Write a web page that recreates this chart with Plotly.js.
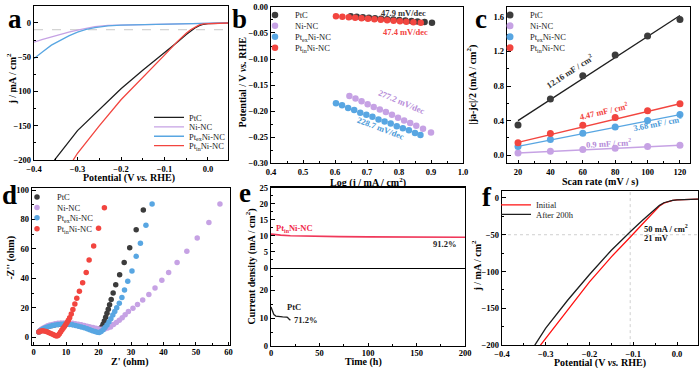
<!DOCTYPE html>
<html><head><meta charset="utf-8">
<script src="https://cdn.plot.ly/plotly-3.0.1.min.js"></script>
<style>html,body{margin:0;padding:0;background:#fff}#g{width:700px;height:368px}</style>
</head><body><div id="g"></div>
<script>
// ---------- Series names ----------
const names = ['PtC', 'Ni-NC', 'Pt<sub>ex</sub>Ni-NC', 'Pt<sub>in</sub>Ni-NC'];

// ---------- (a) LSV ----------
const aPtC_x = [0.046,0.02,0.0,-0.01,-0.02,-0.03,-0.04,-0.05,-0.07,-0.1,-0.15,-0.2,-0.25,-0.3,-0.353];
const aPtC_y = [-0.3,-0.5,-1,-2,-4,-7.5,-12,-17,-28,-43,-69,-96,-126,-157,-200];
const aNi_x = [0.046,0,-0.05,-0.1,-0.15,-0.2,-0.23,-0.26,-0.28,-0.3,-0.32,-0.35,-0.38,-0.4];
const aNi_y = [0,-0.5,-1,-1.5,-2,-2.8,-3.8,-5.5,-7.5,-10.5,-13.5,-18.5,-24,-28];
const aEx_x = [0.046,0,-0.05,-0.1,-0.15,-0.2,-0.23,-0.26,-0.28,-0.3,-0.32,-0.34,-0.36,-0.38,-0.4];
const aEx_y = [0,-0.5,-1,-1.5,-2.2,-3.2,-4.5,-6.8,-9.5,-13.5,-19,-25.5,-32.5,-42,-52];
const aIn_x = [0.046,0.02,0.0,-0.01,-0.02,-0.03,-0.04,-0.05,-0.07,-0.1,-0.15,-0.2,-0.25,-0.3,-0.31];
const aIn_y = [-0.2,-0.4,-0.8,-1.5,-3,-6,-10,-15,-27,-47,-79,-112,-150,-190,-200];
const aRef_x = [-0.4, 0.046];
const aRef_y = [-10, -10];

// ---------- (b) Tafel ----------
const bPtC_x = [0.649,0.668,0.687,0.706,0.725,0.744,0.763,0.782,0.801,0.82,0.839,0.858,0.880,0.903];
const bPtC_y = [-0.0180,-0.0189,-0.0198,-0.0207,-0.0216,-0.0225,-0.0234,-0.0243,-0.0252,-0.0261,-0.0270,-0.0279,-0.0290,-0.0301];
const bNi_x = [0.645,0.664,0.683,0.702,0.721,0.740,0.759,0.778,0.797,0.816,0.835,0.854,0.875,0.900];
const bNi_y = [-0.171,-0.176,-0.181,-0.187,-0.192,-0.197,-0.202,-0.207,-0.213,-0.218,-0.223,-0.228,-0.234,-0.241];
const bEx_x = [0.603,0.622,0.641,0.660,0.679,0.698,0.717,0.736,0.755,0.774,0.793,0.812,0.831,0.850,0.867];
const bEx_y = [-0.185,-0.189,-0.194,-0.198,-0.203,-0.207,-0.211,-0.216,-0.220,-0.224,-0.229,-0.233,-0.237,-0.242,-0.246];
const bIn_x = [0.603,0.623,0.643,0.663,0.683,0.703,0.723,0.743,0.763,0.783,0.803,0.823,0.845,0.868];
const bIn_y = [-0.0180,-0.0189,-0.0199,-0.0208,-0.0218,-0.0227,-0.0237,-0.0246,-0.0256,-0.0265,-0.0275,-0.0284,-0.0294,-0.0305];
const bLabels = ['47.9 mV/dec','277.2 mV/dec','228.7 mV/dec','47.4 mV/dec'];

// ---------- (c) Cdl ----------
const cScan = [20,40,60,80,100,120];
const cPtC = [0.35,0.65,0.92,1.16,1.38,1.57];
const cNi  = [0.025,0.045,0.065,0.08,0.10,0.115];
const cEx  = [0.10,0.18,0.255,0.325,0.40,0.47];
const cIn  = [0.145,0.25,0.345,0.435,0.515,0.595];
const cFitX = [20,120];
const cFitPtC = [0.40,1.616];
const cFitNi  = [0.025,0.115];
const cFitEx  = [0.102,0.47];
const cFitIn  = [0.148,0.595];
const cLabels = ['12.16 mF / cm<sup>2</sup>','0.9 mF / cm<sup>2</sup>','3.68 mF / cm<sup>2</sup>','4.47 mF / cm<sup>2</sup>'];

// ---------- (d) Nyquist ----------
const dPtC_x = [1.6,2.0,2.5,3.0,3.6,4.3,5.0,5.8,6.6,7.5,8.4,9.3,10.2,11.1,12.0,12.9,13.8,14.7,15.6,16.5,17.3,18.1,18.9,19.6,20.2,20.6,21.0,21.4,21.8,22.2,22.6,23.0,23.4,23.9,24.5,25.3,26.5,27.9,29.6,31.6,33.8];
const dPtC_y = [3.6,4.4,5.2,5.9,6.5,7.1,7.6,8.0,8.4,8.7,8.9,9.0,9.0,8.9,8.7,8.5,8.2,7.9,7.5,7.1,6.6,6.1,5.6,5.2,5.2,5.9,7.0,8.8,11.0,13.5,16.2,19.0,22.0,25.6,30.0,35.7,42.5,50.7,60.8,73.0,86.4];
const dNi_x = [1.6,2.0,2.5,3.0,3.6,4.3,5.0,5.8,6.6,7.5,8.4,9.3,10.2,11.1,12.0,12.9,13.8,14.7,15.6,16.5,17.4,18.3,19.2,20.1,21.0,21.9,22.8,23.7,24.6,25.5,26.4,27.3,28.2,29.2,30.6,32.0,33.6,35.5,37.4,39.5,41.6,44.2,47.2,50.4,54.0,57.4];
const dNi_y = [3.6,4.6,5.5,6.3,7.0,7.7,8.2,8.7,9.1,9.4,9.6,9.7,9.7,9.6,9.4,9.1,8.8,8.4,8.0,7.5,7.0,6.5,6.0,5.6,5.4,5.6,6.2,7.0,8.6,10.0,11.5,13.2,15.2,17.4,19.7,22.2,25.3,29.0,33.5,38.7,43.9,50.7,58.4,67.4,78.0,90.5];
const dEx_x = [1.6,2.0,2.5,3.0,3.6,4.3,5.0,5.8,6.6,7.5,8.4,9.3,10.2,11.1,12.0,12.9,13.8,14.7,15.6,16.5,17.3,18.1,18.9,19.6,20.2,20.8,21.4,22.0,22.6,23.2,23.8,24.4,25.0,25.6,26.4,27.2,28.0,29.0,30.3,31.6,32.9,34.6,36.5];
const dEx_y = [3.5,4.3,5.1,5.8,6.4,7.0,7.5,7.9,8.3,8.6,8.8,8.9,8.9,8.7,8.4,8.0,7.5,7.0,6.4,5.8,5.1,4.4,3.8,3.3,3.2,3.8,5.0,6.5,8.3,10.3,12.5,15.0,17.5,20.0,23.0,27.0,32.0,38.0,45.0,55.0,63.8,76.0,90.5];
const dIn_x = [1.6,2.0,2.6,3.2,3.9,4.6,5.3,6.0,6.6,7.1,7.5,7.9,8.3,8.7,9.1,9.5,9.9,10.3,10.7,11.1,11.6,12.1,12.7,13.3,14.1,15.1,16.2,17.1,18.5,20.0,21.8];
const dIn_y = [3.6,4.1,4.3,4.2,3.8,3.2,2.5,1.8,1.1,0.8,1.2,2.2,3.5,4.8,6.0,7.3,8.6,10.0,11.5,13.2,15.8,18.8,22.6,26.5,31.2,37.0,44.0,52.5,62.0,74.0,88.0];

// ---------- (e) stability ----------
const eIn_t = [0,2,5,10,20,30,50,70,100,120,150,175,200];
const eIn_j = [10.5,10.4,10.3,10.2,10.0,9.9,9.8,9.7,9.65,9.6,9.6,9.55,9.5];
const ePtC_t = [0,0.5,1,2,3,5,8,12,16,17,18,19,20];
const ePtC_j = [14,13.6,13,12,11.3,10.8,10.6,10.5,10.4,10.3,9.9,9.6,9.3];

// ---------- (f) durability LSV ----------
const fInit_x = [0.048,0.02,0.0,-0.01,-0.02,-0.03,-0.04,-0.05,-0.08,-0.105,-0.15,-0.2,-0.25,-0.3,-0.312];
const fInit_y = [-1.5,-1.8,-2.5,-3.3,-4.8,-7,-11,-17,-36,-52,-80,-114,-152,-190,-200];
const fAft_x = [0.048,0.02,0.0,-0.01,-0.02,-0.03,-0.04,-0.05,-0.08,-0.105,-0.15,-0.2,-0.25,-0.3,-0.325];
const fAft_y = [-1.5,-1.8,-2.5,-3.2,-4.5,-6.5,-10,-15,-31,-45,-71,-104,-139,-177,-200];
const fGuideX = [-0.107,-0.107];
const fGuideXy = [-200, 9.5];
const fGuideY = [-0.4, 0.048];
const fGuideYy = [-50, -50];

// ---------- styling ----------
const F = 'Liberation Serif, Times New Roman, serif';
const W = 700, H = 368;
const cBlk = '#1e1e1e', cDot = '#3c3c3c', cPur = '#c6a2e4', cBlu = '#58a6e2', cRed = '#f2453f';
const px = v => v / W, py = v => 1 - v / H;
const mt = (o) => Object.assign({ticks: 'inside', ticklen: 2, tickcolor: '#000'}, o);

function axis(dom, range, extra) {
  return Object.assign({
    domain: dom, range: range, showline: true, linecolor: '#000', linewidth: 1.2, mirror: true,
    ticks: 'inside', ticklen: 3.5, tickwidth: 1, tickcolor: '#000', showgrid: false, zeroline: false,
    tickfont: {family: F, size: 8.5, color: '#000', weight: 'bold'}
  }, extra);
}
function leg(L, yc) {
  return {x: px(L), y: py(yc), xanchor: 'left', yanchor: 'middle', bgcolor: 'rgba(0,0,0,0)',
    borderwidth: 0, font: {family: F, size: 8.5, color: '#222'}, tracegroupgap: 0, itemclick: false, itemdoubleclick: false};
}

const traces = [];
let li = 1;
const layout = {
  width: W, height: H, margin: {l: 0, r: 0, t: 0, b: 0}, paper_bgcolor: '#fff', plot_bgcolor: 'rgba(0,0,0,0)',
  showlegend: true, annotations: []
};
function addLeg(tr, L, yc) {
  const key = li === 1 ? 'legend' : 'legend' + li;
  tr.legend = key; tr.showlegend = true;
  layout[key] = leg(L, yc); li++;
}
function line(x, y, xa, ya, color, name, extra) {
  const t = Object.assign({x: x, y: y, xaxis: xa, yaxis: ya, mode: 'lines', name: name || '',
    line: {color: color, width: 1.3}, showlegend: false, hoverinfo: 'skip'}, extra || {});
  traces.push(t); return t;
}
function dots(x, y, xa, ya, color, size, name) {
  const t = {x: x, y: y, xaxis: xa, yaxis: ya, mode: 'markers', name: name || '',
    marker: {color: color, size: size, line: {width: 0}}, showlegend: false, hoverinfo: 'skip'};
  traces.push(t); return t;
}

// (a)
line(aRef_x, aRef_y, 'x', 'y', '#c8c8c8', '', {line: {color: '#c8c8c8', width: 1, dash: 'dash'}});
addLeg(line(aPtC_x, aPtC_y, 'x', 'y', cBlk, names[0]), 149, 116);
addLeg(line(aNi_x, aNi_y, 'x', 'y', cPur, names[1]), 149, 125.5);
addLeg(line(aEx_x, aEx_y, 'x', 'y', cBlu, names[2]), 149, 135);
addLeg(line(aIn_x, aIn_y, 'x', 'y', cRed, names[3]), 149, 144.5);
layout.xaxis = axis([px(34), px(228)], [-0.4, 0.046], {anchor: 'y', dtick: 0.1, tickformat: '.1f', minor: mt({dtick: 0.05})});
layout.yaxis = axis([py(159), py(4)], [-200, 24.6], {anchor: 'x', tickvals: [-200,-150,-100,-50,0], minor: mt({dtick: 25})});

// (b)
addLeg(dots(bPtC_x, bPtC_y, 'x2', 'y2', cDot, 6.5, names[0]), 255, 13);
addLeg(dots(bNi_x, bNi_y, 'x2', 'y2', cPur, 6.5, names[1]), 255, 24);
addLeg(dots(bEx_x, bEx_y, 'x2', 'y2', cBlu, 6.5, names[2]), 255, 35);
addLeg(dots(bIn_x, bIn_y, 'x2', 'y2', cRed, 6.5, names[3]), 255, 46);
layout.xaxis2 = axis([px(271), px(463)], [0.4, 1.0], {anchor: 'y2', dtick: 0.1, tickformat: '.1f', minor: mt({dtick: 0.05})});
layout.yaxis2 = axis([py(162), py(5)], [-0.3, 0], {anchor: 'x2', dtick: 0.05, tickformat: '.2f', minor: mt({dtick: 0.025})});

// (c)
line(cFitX, cFitPtC, 'x3', 'y3', cBlk);
line(cFitX, cFitNi, 'x3', 'y3', cPur);
line(cFitX, cFitEx, 'x3', 'y3', cBlu);
line(cFitX, cFitIn, 'x3', 'y3', cRed);
addLeg(dots(cScan, cPtC, 'x3', 'y3', cDot, 7, names[0]), 490, 13);
addLeg(dots(cScan, cNi, 'x3', 'y3', cPur, 7, names[1]), 490, 24);
addLeg(dots(cScan, cEx, 'x3', 'y3', cBlu, 7, names[2]), 490, 35);
addLeg(dots(cScan, cIn, 'x3', 'y3', cRed, 7, names[3]), 490, 46);
layout.xaxis3 = axis([px(507), px(690)], [13.2, 126.2], {anchor: 'y3', dtick: 20, tick0: 0, minor: mt({dtick: 10})});
layout.yaxis3 = axis([py(162), py(5)], [-0.092, 1.715], {anchor: 'x3', dtick: 0.4, tickformat: '.1f', minor: mt({dtick: 0.2})});

// (d)
addLeg(dots(dPtC_x, dPtC_y, 'x4', 'y4', cDot, 5.5, names[0]), 17, 196);
addLeg(dots(dNi_x, dNi_y, 'x4', 'y4', cPur, 5.5, names[1]), 17, 206.5);
addLeg(dots(dEx_x, dEx_y, 'x4', 'y4', cBlu, 5.5, names[2]), 17, 217);
addLeg(dots(dIn_x, dIn_y, 'x4', 'y4', cRed, 5.5, names[3]), 17, 228);
layout.xaxis4 = axis([px(32), px(230)], [-0.5, 60.5], {anchor: 'y4', dtick: 10, ticklabelstandoff: -2, minor: mt({dtick: 5})});
layout.yaxis4 = axis([py(345), py(187)], [-5.4, 101.4], {anchor: 'x4', dtick: 20, minor: mt({dtick: 10})});

// (e) broken axis: bottom (PtC) and top (Pt-in) sections
line(eIn_t, eIn_j, 'x7', 'y6', '#f0385a', '', {line: {color: '#f0385a', width: 1.6}});
line(ePtC_t, ePtC_j, 'x5', 'y5', cBlk, '', {line: {color: cBlk, width: 1.3}});
layout.xaxis5 = axis([px(271), px(465)], [0, 200], {anchor: 'y5', dtick: 50, mirror: false, ticklabelstandoff: -2, minor: mt({dtick: 25})});
layout.xaxis7 = axis([px(271), px(465)], [0, 200], {anchor: 'y6', ticks: '', showticklabels: false, linewidth: 1.6});
layout.yaxis5 = axis([py(346), py(267)], [0, 28.2], {anchor: 'x5', tickvals: [0,10,20], minor: mt({tickvals: [5,15,25]})});
layout.yaxis6 = axis([py(267), py(187)], [0, 25], {anchor: 'x7', dtick: 5, minor: mt({dtick: 2.5})});

// (f)
line(fGuideX, fGuideXy, 'x6', 'y7', '#cfcfcf', '', {line: {color: '#cfcfcf', width: 1, dash: 'dot'}});
line(fGuideY, fGuideYy, 'x6', 'y7', '#cfcfcf', '', {line: {color: '#cfcfcf', width: 1, dash: 'dot'}});
addLeg(line(fInit_x, fInit_y, 'x6', 'y7', '#ff1010', 'Initial', {line: {color: '#ff1010', width: 1.3}}), 496, 204);
addLeg(line(fAft_x, fAft_y, 'x6', 'y7', cBlk, 'After 200h', {line: {color: cBlk, width: 1.3}}), 496, 213.5);
layout.xaxis6 = axis([px(502), px(698)], [-0.4, 0.048], {anchor: 'y7', dtick: 0.1, tickformat: '.1f', ticklabelstandoff: 0, minor: mt({dtick: 0.05})});
layout.yaxis7 = axis([py(345), py(190)], [-200, 9.5], {anchor: 'x6', tickvals: [-200,-150,-100,-50,0], minor: mt({dtick: 25})});

// ---------- annotations ----------
const A = layout.annotations;
function txt(xref, yref, x, y, text, o) {
  A.push(Object.assign({xref: xref, yref: yref, x: x, y: y, text: text, showarrow: false,
    font: {family: F, size: 8.5, color: '#000', weight: 'bold'}, xanchor: 'center', yanchor: 'middle'}, o || {}));
}
function ptxt(xp, yp, text, o) { txt('paper', 'paper', px(xp), py(yp), text, o); }
// panel letters
const lf = {family: F, size: 27, color: '#000', weight: 'bold'};
[['a',15,0],['b',239,0],['c',481,0]].forEach(l => ptxt(l[1], l[2], l[0], {font: lf, yanchor: 'top'}));
[['d',9,194],['e',245,192],['f',487,196]].forEach(l => ptxt(l[1], l[2], l[0], {font: lf}));
// axis titles
const tf = {family: F, size: 10, color: '#000', weight: 'bold'};
ptxt(129, 177, 'Potential (V <i>vs.</i> RHE)', {font: tf});
ptxt(11, 77, 'j / mA / cm<sup>2</sup>', {font: tf, textangle: -90});
ptxt(368, 181, 'Log (j / mA / cm<sup>2</sup>)', {font: tf});
ptxt(243, 81, 'Potential / V <i>vs.</i> RHE', {font: tf, textangle: -90});
ptxt(600, 181, 'Scan rate (mV / s)', {font: tf});
ptxt(472, 83, '|ja-jc|/2 (mA / cm<sup>2</sup>)', {font: tf, textangle: -90});
ptxt(130, 362, "Z' (ohm)", {font: tf});
ptxt(11, 257, "-Z'' (ohm)", {font: tf, textangle: -90});
ptxt(363, 362, 'Time (h)', {font: tf});
ptxt(251, 266, 'Current density (mA / cm<sup>2</sup>)', {font: tf, textangle: -90});
ptxt(600, 362.5, 'Potential (V <i>vs.</i> RHE)', {font: tf});
ptxt(476, 265, 'j / mA / cm<sup>2</sup>', {font: tf, textangle: -90});
// (b) slopes
const af = c => ({family: F, size: 8.5, color: c, weight: 'bold'});
txt('x2', 'y2', 0.813, -0.0125, bLabels[0], {font: af('#333')});
txt('x2', 'y2', 0.819, -0.048, bLabels[3], {font: af(cRed)});
txt('x2', 'y2', 0.809, -0.182, bLabels[1], {font: af('#b58bd8'), textangle: 23});
txt('x2', 'y2', 0.741, -0.233, bLabels[2], {font: af('#4b9ad8'), textangle: 21});
// (c) capacitances
txt('x3', 'y3', 52, 0.97, cLabels[0], {font: af('#333'), textangle: -33});
txt('x3', 'y3', 72.6, 0.51, cLabels[3], {font: af(cRed), textangle: -13});
txt('x3', 'y3', 106, 0.365, cLabels[2], {font: af('#4b9ad8'), textangle: -11});
txt('x3', 'y3', 76, 0.14, cLabels[1], {font: af('#b58bd8'), textangle: -3});
// (e)
txt('x7', 'y6', 3, 12.3, 'Pt<sub>in</sub>Ni-NC', {font: af('#f0284a'), xanchor: 'left'});
txt('x7', 'y6', 179, 7.3, '91.2%', {font: af('#222')});
txt('x5', 'y5', 14, 13.9, 'PtC', {font: af('#222'), xanchor: 'left'});
txt('x5', 'y5', 21.5, 9.4, '71.2%', {font: af('#222'), xanchor: 'left'});
// (f)
txt('x6', 'y7', -0.08, -42, '50 mA / cm<sup>2</sup>', {font: af('#111'), xanchor: 'left'});
txt('x6', 'y7', -0.08, -54.5, '21 mV', {font: af('#111'), xanchor: 'left'});

Plotly.newPlot('g', traces, layout, {staticPlot: true, displayModeBar: false});
</script></body></html>
